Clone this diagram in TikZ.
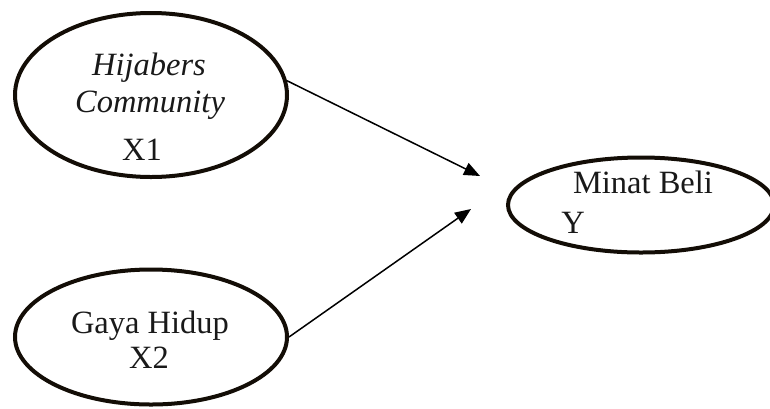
\documentclass[tikz,border=0pt]{standalone}
\usepackage{fontspec}
\setmainfont{Liberation Serif}
\usetikzlibrary{shapes.geometric,arrows.meta}
\tikzset{
  var/.style={draw=black!90!brown, line width=4pt, ellipse, inner sep=0pt},
  lbl/.style={anchor=base, inner sep=0pt, font=\fontsize{32.5}{38}\selectfont, text=black!90},
  path/.style={line width=1.5pt, -{Triangle[length=16pt,width=13pt]}}
}
\begin{document}
\begin{tikzpicture}[x=1pt,y=-1pt]
\clip (0,0) rectangle (770,408);
\node[var, minimum width=272pt, minimum height=164pt] (x1) at (151,95) {};
\node[var, minimum width=272pt, minimum height=135pt] (x2) at (151,337) {};
\node[var, minimum width=266pt, minimum height=95pt] (y) at (641,205) {};
\node[lbl] (t1) at (149,75) {\itshape Hijabers};
\node[lbl] (t2) at (150,112) {\itshape Community};
\node[lbl] (t3) at (142,160) {X1};
\node[lbl] (t4) at (150,333) {Gaya Hidup};
\node[lbl] (t5) at (149,368) {X2};
\node[lbl] (t6) at (643,193) {Minat Beli};
\node[lbl] (t7) at (573,233) {Y};
\coordinate (a1) at (480,176);
\coordinate (a2) at (471,209);
\draw[path] (x1.6) -- (a1);
\draw[path] (x2.east) -- (a2);
\end{tikzpicture}
\end{document}
